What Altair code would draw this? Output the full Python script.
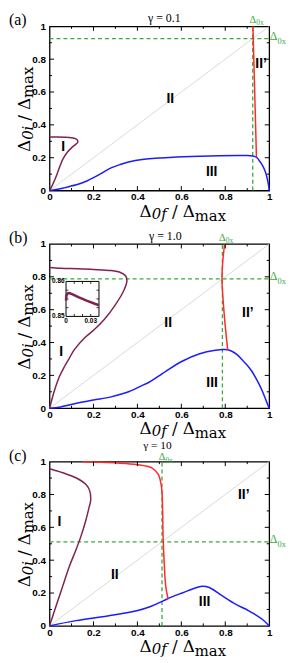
import altair as alt
import pandas as pd

# ---------------- data ----------------
GAMMA_TEXT = ["γ = 0.1", "γ = 1.0", "γ = 10"]
PANEL_TEXT = ["(a)", "(b)", "(c)"]
DELTA_0X = [0.925, 0.787, 0.512]
AXIS_TICKS = [0, 0.2, 0.4, 0.6, 0.8, 1]
MAJOR_TICKS = [0.2, 0.4, 0.6, 0.8]
MINOR_TICKS = [0.1, 0.3, 0.5, 0.7, 0.9]
REGION_NAMES = ["I", "II", "II’", "III"]

# panel (a)  gamma = 0.1
A_I_X = [0, 0.012, 0.029, 0.045, 0.06, 0.08, 0.1, 0.118, 0.128, 0.128, 0.118, 0.1, 0.07, 0.03, 0]
A_I_Y = [0, 0.03, 0.082, 0.14, 0.19, 0.232, 0.26, 0.28, 0.293, 0.305, 0.316, 0.322, 0.325, 0.326, 0.326]
A_III_X = [0, 0.03, 0.07, 0.13, 0.17, 0.205, 0.24, 0.28, 0.32, 0.355, 0.43, 0.5, 0.58, 0.73, 0.88,
           0.926, 0.945, 0.956, 0.968, 0.978, 0.987, 0.993, 0.998, 1]
A_III_Y = [0, 0.006, 0.018, 0.038, 0.058, 0.082, 0.108, 0.138, 0.158, 0.172, 0.19, 0.198, 0.205, 0.211, 0.213,
           0.211, 0.2, 0.18, 0.157, 0.13, 0.095, 0.06, 0.025, 0]
A_RED_X = [0.942, 0.934, 0.926]
A_RED_Y = [0.205, 0.6, 1.0]

# panel (b)  gamma = 1.0
B_I_X = [0, 0.01, 0.023, 0.045, 0.068, 0.09, 0.113, 0.159, 0.204, 0.249, 0.294, 0.332, 0.348, 0.352,
         0.347, 0.325, 0.28, 0.2, 0.128, 0.053, 0.02, 0.004, 0]
B_I_Y = [0, 0.05, 0.111, 0.193, 0.254, 0.305, 0.357, 0.428, 0.479, 0.54, 0.619, 0.7, 0.75, 0.775,
         0.805, 0.825, 0.838, 0.845, 0.849, 0.852, 0.855, 0.8567, 0.8557]
B_III_X = [0, 0.05, 0.128, 0.2, 0.28, 0.36, 0.43, 0.453, 0.529, 0.604, 0.68, 0.755, 0.8, 0.83, 0.855,
           0.876, 0.9, 0.921, 0.951, 0.97, 0.985, 1]
B_III_Y = [0, 0.008, 0.032, 0.05, 0.069, 0.1, 0.144, 0.158, 0.225, 0.286, 0.33, 0.353, 0.357, 0.347, 0.325,
           0.296, 0.262, 0.225, 0.154, 0.1, 0.05, 0]
B_RED_X = [0.811, 0.8, 0.788, 0.785, 0.788, 0.797]
B_RED_Y = [0.357, 0.5, 0.7, 0.787, 0.884, 1.0]

# inset of panel (b)
INSET_X = [0, 0.0005, 0.002, 0.004, 0.008, 0.015, 0.025, 0.035, 0.04]
INSET_Y = [0.8545, 0.856, 0.8566, 0.8567, 0.8563, 0.8555, 0.8545, 0.8536, 0.8532]
INSET_XDOM = [0, 0.04]
INSET_YDOM = [0.85, 0.86]
INSET_XTICKS = [0.01, 0.02, 0.03]
INSET_YTICKS = [0.8525, 0.855, 0.8575]
INSET_XLABELS = [(0, "0"), (0.03, "0.03")]
INSET_YLABELS = [(0.85, "0.85"), (0.86, "0.86")]
INSET_BOX = [0.075, 0.225, 0.559, 0.772]   # x0, x1, y0, y1 in panel units

# panel (c)  gamma = 10
C_I_X = [0, 0.03, 0.06, 0.09, 0.12, 0.142, 0.165, 0.18, 0.187, 0.183, 0.165, 0.12, 0.06, 0.022, 0.005, 0]
C_I_Y = [0, 0.122, 0.242, 0.362, 0.462, 0.542, 0.642, 0.722, 0.762, 0.822, 0.862, 0.902, 0.932, 0.948, 0.955, 0.958]
C_III_X = [0, 0.12, 0.27, 0.397, 0.46, 0.517, 0.56, 0.607, 0.667, 0.697, 0.727, 0.787, 0.847, 0.907, 0.967, 1]
C_III_Y = [0, 0.032, 0.062, 0.092, 0.118, 0.152, 0.178, 0.202, 0.232, 0.242, 0.234, 0.182, 0.132, 0.092, 0.042, 0]
C_RED_X = [0.54, 0.529, 0.522, 0.517, 0.514, 0.51, 0.495, 0.465, 0.397, 0.307, 0.22, 0.15]
C_RED_Y = [0.162, 0.242, 0.382, 0.542, 0.742, 0.842, 0.922, 0.962, 0.982, 0.992, 0.997, 1.0]

REGION_POS = [
    [(0.062, 0.265), (0.55, 0.557), (0.963, 0.77), (0.738, 0.112)],
    [(0.053, 0.34), (0.54, 0.52), (0.903, 0.578), (0.74, 0.152)],
    [(0.045, 0.63), (0.297, 0.31), (0.884, 0.796), (0.706, 0.146)],
]
GAMMA_X = [116, 117, 109]
GAMMA_BASE = [-4, -4, -13]
GAMMA_SIZE = [12, 12, 11.5]
D0X_TOP_BASE = [-3.5, -3.5, -1.5]

# ---------------- style ----------------
PURPLE = "#7e2352"
BLUE = "#1c1cff"
RED = "#ff2a2a"
GREEN = "#3caa3c"
GRAY = "#d0d0d0"
SERIF = "Liberation Serif, serif"
TSERIF = "DejaVu Serif, serif"
SANS = "Liberation Sans, sans-serif"
W, H = 222, 166
ONE = pd.DataFrame({"k": [0]})
CW = {"Δ": 0.72, "0": 0.636, "f": 0.4, "i": 0.32, "/": 0.337, "m": 0.949, "a": 0.596, "x": 0.63}

xs = alt.Scale(domain=[0, 1], nice=False, zero=False)
ys = alt.Scale(domain=[0, 1], nice=False, zero=False)
AX = dict(values=AXIS_TICKS, format="~g", ticks=False, domain=False, grid=False, title=None,
          labelFont=SANS, labelFontWeight="bold", labelFontSize=10, labelColor="black",
          labelFlush=False, labelOverlap=False)
XE = alt.X("x:Q", scale=xs, axis=alt.Axis(orient="bottom", labelPadding=1.5, **AX))
YE = alt.Y("y:Q", scale=ys, axis=alt.Axis(orient="left", labelPadding=4, **AX))


def curve(xv, yv, color, width=1.5, interp="catmull-rom"):
    df = pd.DataFrame({"x": xv, "y": yv, "i": list(range(len(xv)))})
    return alt.Chart(df).mark_line(color=color, strokeWidth=width, interpolate=interp).encode(
        x=XE, y=YE, order="i:Q")


def rules(rows, color="black", width=1.0, dash=None):
    df = pd.DataFrame(rows, columns=["x", "x2", "y", "y2"])
    kw = dict(color=color, strokeWidth=width)
    if dash:
        kw["strokeDash"] = dash
    return alt.Chart(df).mark_rule(**kw).encode(x=XE, x2="x2:Q", y=YE, y2="y2:Q")


def txt(s, x, y, size, font=SERIF, style="normal", weight="normal", color="black",
        align="left", baseline="alphabetic", angle=0):
    return alt.Chart(ONE).mark_text(text=s, fontSize=size, font=font, fontStyle=style,
                                    fontWeight=weight, color=color, align=align,
                                    baseline=baseline, angle=angle).encode(
        x=alt.value(x), y=alt.value(y))


def dtxt(s, x, y, size, dx=0, dy=0, font=SERIF, weight="normal", color="black",
         align="center", baseline="middle"):
    df = pd.DataFrame({"x": [x], "y": [y]})
    return alt.Chart(df).mark_text(text=s, fontSize=size, font=font, fontWeight=weight,
                                   color=color, align=align, baseline=baseline,
                                   dx=dx, dy=dy).encode(x=XE, y=YE)


def composite(pieces, x0, y0, vertical):
    out = []
    pos = 0.0
    for text, size, style, drop in pieces:
        if text is None:
            pos += size
            continue
        w = sum(CW.get(c, 0.6) for c in text) * size
        if vertical:
            out.append(txt(text, x0 + drop, y0 - pos, size, font=TSERIF, style=style, angle=270))
        else:
            out.append(txt(text, x0 + pos, y0 + drop, size, font=TSERIF, style=style))
        pos += w
    return out


def frame_ticks():
    rows = []
    for v in MAJOR_TICKS + MINOR_TICKS:
        L = 4.5 if v in MAJOR_TICKS else 2.5
        lx, ly = L / W, L / H
        rows += [(v, v, 0, ly), (v, v, 1, 1 - ly), (0, lx, v, v), (1, 1 - lx, v, v)]
    return rules(rows, width=1.0)


def inset_layers():
    bx0, bx1, by0, by1 = INSET_BOX
    fx = lambda v: bx0 + (v - INSET_XDOM[0]) / (INSET_XDOM[1] - INSET_XDOM[0]) * (bx1 - bx0)
    fy = lambda v: by0 + (v - INSET_YDOM[0]) / (INSET_YDOM[1] - INSET_YDOM[0]) * (by1 - by0)
    box = alt.Chart(pd.DataFrame({"x": [bx0], "x2": [bx1], "y": [by0], "y2": [by1]})).mark_rect(
        fill="white", stroke="black", strokeWidth=1).encode(x=XE, x2="x2:Q", y=YE, y2="y2:Q")
    lx, ly = 2.5 / W, 2.5 / H
    rows = []
    for v in INSET_XTICKS:
        rows += [(fx(v), fx(v), by0, by0 + ly), (fx(v), fx(v), by1, by1 - ly)]
    for v in INSET_YTICKS:
        rows += [(bx0, bx0 + lx, fy(v), fy(v)), (bx1, bx1 - lx, fy(v), fy(v))]
    tk = rules(rows, width=0.8)
    line = curve([fx(v) for v in INSET_X], [fy(v) for v in INSET_Y], PURPLE, width=2.6,
                 interp="linear")
    labs = []
    for v, s in INSET_XLABELS:
        labs.append(dtxt(s, fx(v), by0, 6.5, dy=5, font=SANS, weight="bold"))
    for v, s in INSET_YLABELS:
        labs.append(dtxt(s, bx0, fy(v), 6.5, dx=-1.5, font=SANS, weight="bold", align="right"))
    return [box, tk, line] + labs


def panel(k, curves):
    d = DELTA_0X[k]
    layers = [curve([0, 1], [0, 1], GRAY, width=0.8, interp="linear")]
    layers.append(rules([(d, d, 0, 1), (0, 1, d, d)], color=GREEN, width=1.3, dash=[4, 3]))
    for xv, yv, c in curves:
        layers.append(curve(xv, yv, c))
    if k == 1:
        layers += inset_layers()
    layers.append(frame_ticks())
    for name, (px, py) in zip(REGION_NAMES, REGION_POS[k]):
        layers.append(dtxt(name, px, py, 14, font=SANS, weight="bold"))
    # Delta_0x labels (top and right)
    tb = D0X_TOP_BASE[k]
    layers.append(dtxt("Δ", d, 1, 10.5, dy=tb, color=GREEN, baseline="alphabetic"))
    layers.append(dtxt("0x", d, 1, 7.5, dx=3.5, dy=tb + 2.5, color=GREEN, align="left",
                       baseline="alphabetic"))
    layers.append(dtxt("Δ", 1, d, 12, dx=0.5, dy=1.5, color=GREEN, align="left",
                       baseline="alphabetic"))
    layers.append(dtxt("0x", 1, d, 8.5, dx=8.5, dy=5.5, color=GREEN, align="left",
                       baseline="alphabetic"))
    # panel label and gamma
    layers.append(txt(PANEL_TEXT[k], -41, -1, 16))
    layers.append(txt(GAMMA_TEXT[k], GAMMA_X[k], GAMMA_BASE[k], GAMMA_SIZE[k], align="center"))
    # axis titles
    xt = [("Δ", 17, "normal", 0), ("0f", 15, "italic", 2), (None, 5, "", 0), ("/", 17, "normal", 0),
          (None, 5, "", 0), ("Δ", 17, "normal", 0), ("max", 15, "normal", 4)]
    yt = [("Δ", 17, "normal", 0), ("0i", 15, "italic", 3), (None, 5, "", 0), ("/", 17, "normal", 0),
          (None, 5, "", 0), ("Δ", 17, "normal", 0), ("max", 15, "normal", 3)]
    layers += composite(xt, 91, H + 26.5, False)
    layers += composite(yt, -20, 127, True)
    return alt.layer(*layers).properties(width=W, height=H)


pa = panel(0, [(A_I_X, A_I_Y, PURPLE), (A_III_X, A_III_Y, BLUE), (A_RED_X, A_RED_Y, RED)])
pb = panel(1, [(B_I_X, B_I_Y, PURPLE), (B_III_X, B_III_Y, BLUE), (B_RED_X, B_RED_Y, RED)])
pc = panel(2, [(C_I_X, C_I_Y, PURPLE), (C_III_X, C_III_Y, BLUE), (C_RED_X, C_RED_Y, RED)])

chart = alt.vconcat(pa, pb, pc, spacing=54, bounds="flush").properties(
    padding=0
).configure_view(stroke="black", strokeWidth=1.3)

chart.save("out.html", embed_options={"renderer": "svg", "actions": False})
